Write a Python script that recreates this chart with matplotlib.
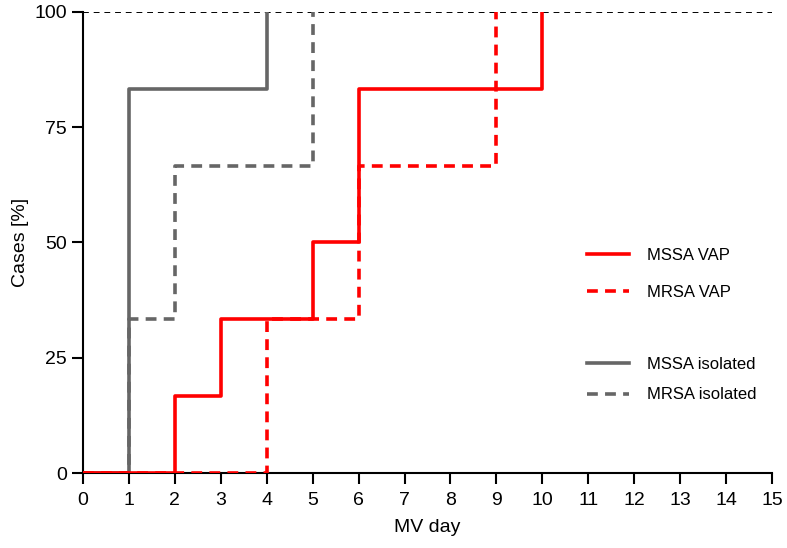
import matplotlib
matplotlib.use("Agg")
import matplotlib.pyplot as plt
from matplotlib import font_manager as fm

names = {f.name for f in fm.fontManager.ttflist}
narrow = 'Liberation Sans Narrow' if 'Liberation Sans Narrow' in names else 'Liberation Sans'

# Data
mssa_iso_x = [0, 1, 4]
mssa_iso_y = [0, 83.33, 100]
mrsa_iso_x = [0, 1, 2, 5]
mrsa_iso_y = [0, 33.33, 66.67, 100]
mssa_vap_x = [0, 2, 3, 5, 6, 10]
mssa_vap_y = [0, 16.67, 33.33, 50, 83.33, 100]
mrsa_vap_x = [0, 4, 6, 9]
mrsa_vap_y = [0, 33.33, 66.67, 100]
xticks = list(range(0, 16))
yticks = [0, 25, 50, 75, 100]

RED = '#ff0000'
GRAY = '#666666'

fig = plt.figure(figsize=(7.87, 5.48), dpi=100)
ax = fig.add_axes([83/787, 1-473/548, 689/787, 461/548])

ax.plot([0, 15], [100, 100], color='black', lw=1.4, ls=(0, (3, 2.5)), zorder=1)
l3, = ax.step(mssa_iso_x, mssa_iso_y, where='post', color=GRAY, lw=2.6, zorder=2)
l4, = ax.step(mrsa_iso_x, mrsa_iso_y, where='post', color=GRAY, lw=2.6, ls=(0, (3, 2)), zorder=2)
l1, = ax.step(mssa_vap_x, mssa_vap_y, where='post', color=RED, lw=2.6, zorder=3)
l2, = ax.step(mrsa_vap_x, mrsa_vap_y, where='post', color=RED, lw=2.6, ls=(0, (3, 2)), zorder=3)

ax.set_xlim(0, 15)
ax.set_ylim(0, 100)
ax.spines['top'].set_visible(False)
ax.spines['right'].set_visible(False)
for s in ['left', 'bottom']:
    ax.spines[s].set_linewidth(1.5)
    ax.spines[s].set_color('black')
ax.set_xticks(xticks)
ax.set_yticks(yticks)
ax.tick_params(axis='both', direction='out', length=8, width=1.5, labelsize=14)
ax.tick_params(axis='x', pad=6)
for lab in ax.get_xticklabels() + ax.get_yticklabels():
    lab.set_fontfamily(narrow)
ax.set_xlabel('MV day', fontsize=14, fontfamily='Liberation Sans', labelpad=7)
ax.set_ylabel('Cases [%]', fontsize=14, fontfamily='Liberation Sans', labelpad=4)

leg1 = ax.legend([l1, l2], ['MSSA VAP', 'MRSA VAP'], loc='upper left',
                 bbox_to_anchor=(0.71, 0.52), frameon=False,
                 prop={'family': 'Liberation Sans', 'size': 12},
                 handlelength=2.5, handletextpad=1.1, labelspacing=1.3)
ax.add_artist(leg1)
ax.legend([l3, l4], ['MSSA isolated', 'MRSA isolated'], loc='upper left',
          bbox_to_anchor=(0.71, 0.285), frameon=False,
          prop={'family': 'Liberation Sans', 'size': 12},
          handlelength=2.5, handletextpad=1.1, labelspacing=0.95)

fig.savefig('out.png', dpi=100)
